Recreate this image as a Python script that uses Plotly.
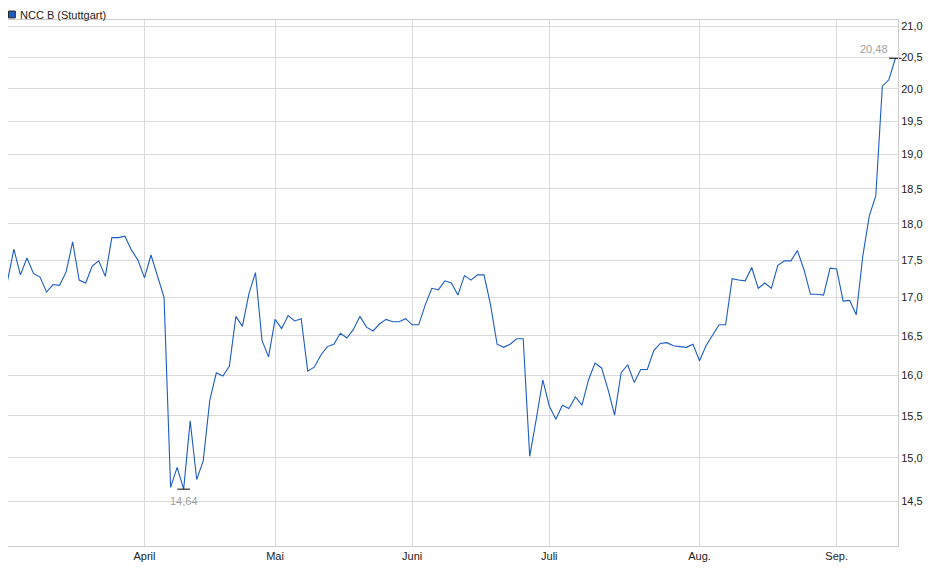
import numpy as np
import pandas as pd
import plotly.graph_objects as go

# trading days (Börse Stuttgart), 3 Mar - 12 Sep 2025
holidays = ["2025-04-18", "2025-04-21", "2025-05-01"]
days = pd.bdate_range("2025-03-03", "2025-09-12")
days = [d.strftime("%Y-%m-%d") for d in days if d.strftime("%Y-%m-%d") not in holidays]

# closing prices in EUR
march = [17.21, 17.65, 17.30, 17.53, 17.32, 17.27, 17.07, 17.17, 17.16, 17.34,
         17.75, 17.23, 17.19, 17.42, 17.49, 17.28, 17.81, 17.81, 17.83, 17.64,
         17.50]
april = [17.26, 17.57, 17.27, 17.00, 14.66, 14.89, 14.64, 15.44, 14.75, 14.97,
         15.69, 16.03, 15.99, 16.11, 16.75, 16.62, 17.05, 17.33, 16.44, 16.23]
may = [16.71, 16.59, 16.76, 16.69, 16.72, 16.05, 16.10, 16.25, 16.36, 16.39,
       16.53, 16.47, 16.58, 16.75, 16.61, 16.56, 16.65, 16.71, 16.68, 16.68,
       16.72]
june = [16.64, 16.64, 16.90, 17.12, 17.10, 17.22, 17.19, 17.03, 17.29, 17.23,
        17.30, 17.30, 16.90, 16.39, 16.35, 16.39, 16.46, 16.46, 15.02, 15.46,
        15.94]
july = [15.62, 15.46, 15.63, 15.59, 15.73, 15.63, 15.94, 16.15, 16.09, 15.82,
        15.51, 16.03, 16.13, 15.91, 16.07, 16.07, 16.31, 16.40, 16.41, 16.37,
        16.36, 16.35, 16.39]
august = [16.18, 16.37, 16.51, 16.64, 16.64, 17.25, 17.23, 17.22, 17.40, 17.12,
          17.19, 17.12, 17.43, 17.49, 17.49, 17.63, 17.37, 17.04, 17.04, 17.03,
          17.39]
september = [17.38, 16.95, 16.96, 16.77, 17.55, 18.11, 18.40, 20.04, 20.14, 20.48]
prices = march + april + may + june + july + august + september

month_ticks = ["2025-04-01", "2025-05-02", "2025-06-02", "2025-07-01", "2025-08-01", "2025-09-01"]
month_labels = ["April", "Mai", "Juni", "Juli", "Aug.", "Sep."]
price_ticks = [14.5, 15.0, 15.5, 16.0, 16.5, 17.0, 17.5, 18.0, 18.5, 19.0, 19.5, 20.0, 20.5, 21.0]

blue = "#1c5cc4"
grid = "#dadada"
font = "Liberation Sans, Arial, sans-serif"

i_min = int(np.argmin(prices))
i_last = len(prices) - 1

line = go.Scatter(
    x=days,
    y=prices,
    mode="lines",
    line=dict(color=blue, width=1.1),
    showlegend=False,
    hoverinfo="x+y",
)

marks = go.Scatter(
    x=[days[i_min], days[i_last]],
    y=[prices[i_min], prices[i_last]],
    mode="markers",
    marker=dict(symbol="line-ew", size=9, line=dict(color="black", width=1)),
    cliponaxis=False,
    showlegend=False,
    hoverinfo="skip",
)

# the page body adds 8px around the figure, so the figure is a bit smaller
layout = go.Layout(
    width=932,
    height=571,
    margin=dict(l=0, r=42, t=12, b=33),
    paper_bgcolor="white",
    plot_bgcolor="white",
    separators=",.",
    font=dict(family=font, size=11, color="#222222"),
    xaxis=dict(
        type="category",
        range=[0.1, 136.4],
        tickvals=month_ticks,
        ticktext=month_labels,
        showgrid=True,
        gridcolor=grid,
        gridwidth=1,
        ticks="",
        showline=True,
        linecolor="#cccccc",
        mirror=True,
        zeroline=False,
        tickfont=dict(size=11, color="#222222"),
    ),
    yaxis=dict(
        type="log",
        side="right",
        range=[np.log10(14.006), np.log10(21.10)],
        tickvals=price_ticks,
        tickformat=".1f",
        showgrid=True,
        gridcolor=grid,
        gridwidth=1,
        ticks="",
        showline=True,
        linecolor="#cccccc",
        mirror=True,
        zeroline=False,
        tickfont=dict(size=11, color="#222222"),
    ),
    shapes=[
        dict(type="rect", xref="paper", yref="paper",
             x0=0.0006, x1=0.0082, y0=1.0040, y1=1.0170,
             fillcolor=blue, line=dict(color="#222222", width=1)),
    ],
    annotations=[
        dict(text="NCC B (Stuttgart)", xref="paper", yref="paper",
             x=0.0118, y=1.0228, xanchor="left", yanchor="top", borderpad=0,
             showarrow=False, font=dict(size=11, color="#222222")),
        dict(text=f"{prices[i_min]:.2f}".replace(".", ","), x=days[i_min],
             y=np.log10(prices[i_min]), xanchor="center", yanchor="top",
             yshift=-4, showarrow=False, font=dict(size=11, color="#a0a0a0")),
        dict(text=f"{prices[i_last]:.2f}".replace(".", ","), x=days[i_last],
             y=np.log10(prices[i_last]), xanchor="right", yanchor="bottom",
             xshift=-5, yshift=1, showarrow=False, font=dict(size=11, color="#a0a0a0")),
    ],
)

fig = go.Figure(data=[line, marks], layout=layout)
fig.write_html("out.html")
